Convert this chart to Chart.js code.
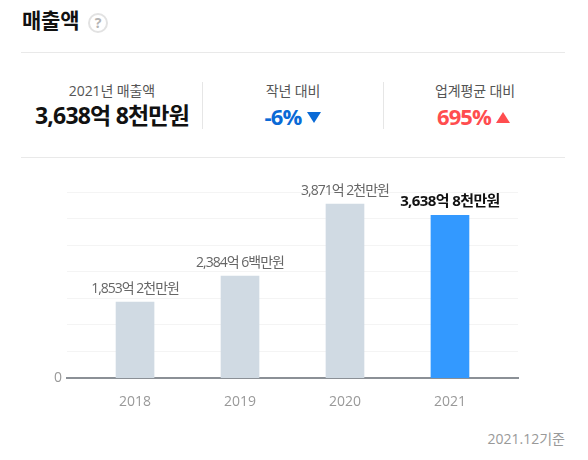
<!DOCTYPE html>
<html lang="ko">
<head>
<meta charset="utf-8">
<title>매출액</title>
<script src="https://cdn.jsdelivr.net/npm/chart.js@4"></script>
<style>
    html, body { margin: 0; padding: 0; background: #fff; }
    body { width: 588px; height: 460px; position: relative; overflow: hidden; font-family: "Open Sans", "Noto Sans CJK KR", sans-serif; }
    .abs { position: absolute; white-space: nowrap; line-height: 1; }
    .title { left: 22px; top: 10px; font-size: 21px; font-weight: 700; color: #111; letter-spacing: -0.2px; }
    .help { left: 88px; top: 13px; width: 16px; height: 16px; border: 2px solid #e2e2e2; border-radius: 50%; color: #b4b4b4; font: 700 14px/16px "Noto Sans", sans-serif; text-align: center; }
    .rule { left: 21px; width: 544px; height: 1px; background: #e9e9e9; }
    .divider { top: 82px; width: 1px; height: 47px; background: #e6e6e6; }
    .cap { top: 84px; font-size: 14px; color: #555; letter-spacing: -0.1px; transform: translateX(-50%); }
    .big { top: 105px; font-size: 22px; font-weight: 700; letter-spacing: -0.9px; transform: translateX(-50%); }
    .tri { width: 0; height: 0; border-left: 7.5px solid transparent; border-right: 7.5px solid transparent; }
    .date { right: 23px; top: 432px; font-size: 14px; color: #999; }
    #chartBox { position: absolute; left: 0; top: 170px; width: 588px; height: 240px; }
</style>
</head>
<body>
<div class="abs title">매출액</div>
<div class="abs help">?</div>
<div class="abs rule" style="top:52px"></div>

<div class="abs cap" style="left:112px">2021년 매출액</div>
<div class="abs big" style="left:112px;top:104px;color:#111;font-size:23px;letter-spacing:-0.8px">3,638억 8천만원</div>
<div class="abs divider" style="left:202px"></div>

<div class="abs cap" style="left:293px">작년 대비</div>
<div class="abs big" style="left:283px;color:#0a6ad6">-6%</div>
<div class="abs tri" style="left:307px;top:112px;border-top:11px solid #0a6ad6"></div>
<div class="abs divider" style="left:383px"></div>

<div class="abs cap" style="left:475px">업계평균 대비</div>
<div class="abs big" style="left:464px;color:#ff4d4f">695%</div>
<div class="abs tri" style="left:496px;top:112px;border-bottom:11px solid #ff4d4f"></div>

<div class="abs rule" style="top:157px"></div>

<div id="chartBox"><canvas id="salesChart"></canvas></div>

<div class="abs date">2021.12기준</div>

<script>
// Данные графика
const years = [2018, 2019, 2020, 2021];
const revenue = [1853.2, 2384.6, 3871.2, 3638.8];
const valueLabels = ['1,853억 2천만원', '2,384억 6백만원', '3,871억 2천만원', '3,638억 8천만원'];
const barColors = ['#d0dae3', '#d0dae3', '#d0dae3', '#3399ff'];
const yMin = 288;
const yMax = 4118;
const yStep = 547;

// Подписи над столбцами
const valueLabelPlugin = {
    id: 'valueLabels',
    afterDatasetsDraw(chart) {
        const ctx = chart.ctx;
        const bars = chart.getDatasetMeta(0).data;
        ctx.save();
        ctx.textAlign = 'center';
        ctx.textBaseline = 'alphabetic';
        bars.forEach((bar, i) => {
            const last = i === bars.length - 1;
            ctx.letterSpacing = last ? '-0.6px' : '-1px';
            ctx.font = (last ? '700 15px' : '400 14px') + ' "Open Sans", "Noto Sans CJK KR"';
            ctx.fillStyle = last ? '#111' : '#666';
            ctx.fillText(valueLabels[i], bar.x, bar.y - 9);
        });
        ctx.restore();
    }
};

new Chart(document.getElementById('salesChart'), {
    type: 'bar',
    data: {
        datasets: [{
            data: years.map((year, i) => ({ x: year, y: revenue[i] })),
            backgroundColor: barColors,
            barThickness: 38
        }]
    },
    options: {
        responsive: true,
        maintainAspectRatio: false,
        animation: false,
        layout: { padding: { top: 22, right: 70, bottom: 0, left: 0 } },
        plugins: { legend: { display: false }, tooltip: { enabled: false } },
        scales: {
            x: {
                type: 'linear',
                offset: false,
                min: 2017.352,
                max: 2021.648,
                afterBuildTicks: (scale) => { scale.ticks = years.map(value => ({ value })); },
                afterFit: (scale) => { scale.height = 32; },
                grid: { display: false },
                border: { color: '#8b9096', width: 2 },
                ticks: {
                    autoSkip: false,
                    maxRotation: 0,
                    padding: 8,
                    color: '#999',
                    font: { family: '"Open Sans"', size: 14 },
                    callback: (value) => String(value)
                }
            },
            y: {
                min: yMin,
                max: yMax,
                afterFit: (scale) => { scale.width = 67; },
                grid: { color: '#f4f4f4', lineWidth: 1, drawTicks: false },
                border: { display: false },
                ticks: {
                    stepSize: yStep,
                    padding: 5,
                    color: '#999',
                    font: { family: '"Open Sans"', size: 14 },
                    callback: (value) => (value === yMin ? '0' : '')
                }
            }
        }
    },
    plugins: [valueLabelPlugin]
});
</script>
</body>
</html>
